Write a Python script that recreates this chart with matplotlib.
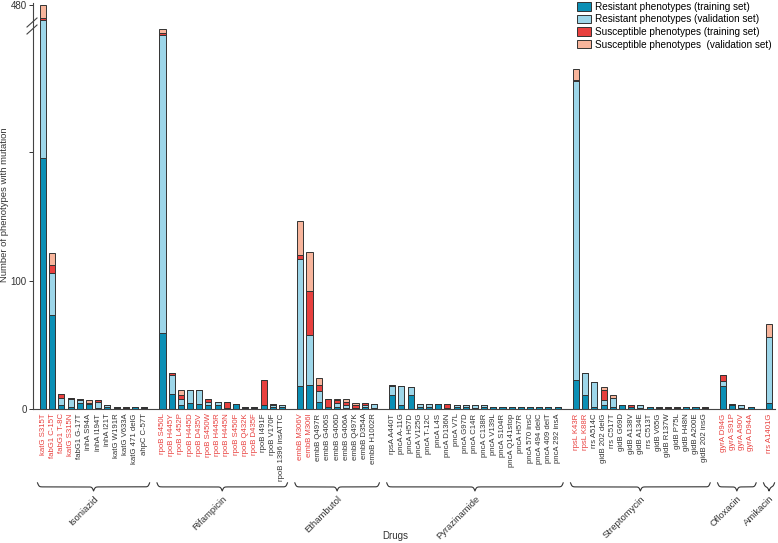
import matplotlib
matplotlib.use("Agg")
import matplotlib.pyplot as plt
import numpy as np
from matplotlib.patches import Patch
from matplotlib.lines import Line2D

plt.rcParams['font.family'] = ['Liberation Sans', 'DejaVu Sans']
narrow = ['Liberation Sans Narrow', 'Liberation Sans']

# ---- data ----
drugs = ['Isoniazid', 'Rifampicin', 'Ethambutol', 'Pyrazinamide',
         'Streptomycin', 'Ofloxacin', 'Amikacin']
group_sizes = [12, 14, 9, 19, 15, 4, 1]

mutations = [
    'katG S315T', 'fabG1 C-15T', 'fabG1 T-8C', 'katG S315N', 'fabG1 G-17T', 'inhA S94A',
    'inhA I194T', 'inhA I21T', 'katG W191R', 'katG V633A', 'katG 471 delG', 'ahpC C-57T',
    'rpoB S450L', 'rpoB H445Y', 'rpoB L452P', 'rpoB H445D', 'rpoB D435V', 'rpoB S450W',
    'rpoB H445R', 'rpoB H445N', 'rpoB S450F', 'rpoB Q432K', 'rpoB D435F', 'rpoB I491F',
    'rpoB V170F', 'rpoB 1396 insATTC',
    'embB M306V', 'embB M306I', 'embB Q497R', 'embB G406S', 'embB G406D', 'embB G406A',
    'embB Q497K', 'embB D354A', 'embB H1002R',
    'rpsA A440T', 'pncA A-11G', 'pncA H57D', 'pncA V125G', 'pncA T-12C', 'pncA L4S',
    'pncA D136N', 'pncA V7L', 'pncA G97D', 'pncA C14R', 'pncA C138R', 'pncA V139L',
    'pncA S104R', 'pncA Q141stop', 'pncA H57R', 'pncA 570 insC', 'pncA 494 delC',
    'pncA 409 delT', 'pncA 292 insA',
    'rpsL K43R', 'rpsL K88R', 'rrs A514C', 'gidB 202 delG', 'rrs C517T', 'gidB G69D',
    'gidB A138V', 'gidB A134E', 'rrs C513T', 'gidB V65G', 'gidB R137W', 'gidB P75L',
    'gidB H48N', 'gidB A200E', 'gidB 202 insG',
    'gyrA D94G', 'gyrA S91P', 'gyrA A90V', 'gyrA D94A',
    'rrs A1401G',
]

# catalogued (known resistance) mutations, drawn in red in the labels
catalogued = ([1]*4 + [0]*8 + [1]*11 + [0]*3 + [1]*2 + [0]*7 + [0]*19 +
              [1]*2 + [0]*13 + [1]*4 + [1])

res_train = [195, 73, 3, 2, 5, 4, 1, 2, 1, 1, 2, 1,
             59, 12, 3, 5, 4, 3, 3, 1, 4, 1, 1, 3, 2, 2,
             18, 19, 6, 2, 2, 1, 1, 2, 1,
             11, 3, 11, 2, 2, 4, 1, 2, 2, 1, 2, 2, 2, 2, 2, 2, 2, 2, 2,
             23, 11, 2, 3, 2, 3, 2, 1, 2, 1, 1, 1, 2, 2, 1,
             18, 3, 1, 2,
             5]
res_valid = [273, 33, 6, 6, 2, 0, 5, 1, 1, 0, 0, 1,
             232, 15, 5, 10, 11, 3, 3, 0, 0, 1, 1, 0, 1, 1,
             99, 39, 8, 0, 3, 2, 0, 1, 3,
             7, 15, 6, 2, 2, 0, 0, 1, 1, 2, 1, 0, 0, 0, 0, 0, 0, 0, 0,
             232, 17, 19, 4, 7, 0, 0, 2, 0, 1, 0, 0, 0, 0, 0,
             4, 0, 2, 0,
             51]
sus_train = [2, 6, 3, 1, 1, 1, 1, 0, 0, 1, 0, 0,
             1, 1, 3, 0, 0, 2, 0, 5, 0, 0, 0, 20, 1, 0,
             3, 34, 5, 6, 2, 3, 2, 2, 0,
             1, 0, 0, 0, 0, 0, 3, 0, 0, 0, 0, 0, 0, 0, 0, 0, 0, 0, 0,
             1, 0, 0, 8, 0, 0, 1, 0, 0, 0, 1, 1, 0, 0, 1,
             5, 1, 0, 0,
             0]
sus_valid = [10, 9, 0, 0, 0, 2, 0, 0, 0, 0, 0, 0,
             3, 0, 4, 0, 0, 0, 0, 0, 0, 0, 0, 0, 0, 0,
             26, 30, 5, 0, 1, 2, 2, 0, 0,
             0, 0, 0, 0, 0, 0, 0, 0, 0, 0, 0, 0, 0, 0, 0, 0, 0, 0, 0,
             8, 0, 0, 2, 2, 0, 0, 0, 0, 0, 0, 0, 0, 0, 0,
             0, 0, 0, 0,
             10]

series_names = ['Resistant phenotypes (training set)',
                'Resistant phenotypes (validation set)',
                'Susceptible phenotypes (training set)',
                'Susceptible phenotypes  (validation set)']
colors = ['#0b8fb5', '#9dd6e9', '#e8403e', '#f8b59c']
edge = '#333333'
red_txt = '#e8403e'

# ---- positions: one empty slot between drug groups ----
group_of = np.repeat(np.arange(len(group_sizes)), group_sizes)
x = np.arange(len(mutations)) + group_of


# broken y axis: compress the range between 298 and 466
def fwd(v):
    v = np.asarray(v, dtype=float)
    return np.where(v <= 298, v, np.where(v >= 466, v - 166, 298 + (v - 298) * 2 / 168))


def inv(u):
    u = np.asarray(u, dtype=float)
    return np.where(u <= 298, u, np.where(u >= 300, u + 166, 298 + (u - 298) * 84))


fig = plt.figure(figsize=(7.78, 5.43), dpi=100)
ax = fig.add_axes([33/778, 1 - 409.3/543, 742/778, 406.3/543])
ax.set_yscale('function', functions=(fwd, inv))

bottom = np.zeros(len(mutations))
for vals, c in zip([res_train, res_valid, sus_train, sus_valid], colors):
    vals = np.array(vals, dtype=float)
    ax.bar(x, vals, bottom=bottom, width=0.66, color=c, edgecolor=edge, linewidth=0.7)
    bottom += vals

ax.set_xlim(-1.09, x[-1] + 0.65)
ax.set_ylim(0, 481.5)
ax.set_yticks([0, 100, 200, 480])
ax.set_yticklabels(['0', '100', '', '480'])
ax.tick_params(axis='y', labelsize=7, length=3, width=0.7, colors='#333333', pad=1.5)
ax.tick_params(axis='x', length=0, pad=3)
ax.set_xticks(x)
ax.set_xticklabels(mutations, rotation=90, fontsize=5.6, family=narrow)
for lab, flag in zip(ax.get_xticklabels(), catalogued):
    lab.set_color(red_txt if flag else '#333333')

for s in ['top', 'right']:
    ax.spines[s].set_visible(False)
for s in ['left', 'bottom']:
    ax.spines[s].set_color('#444444')
    ax.spines[s].set_linewidth(0.8)

# break marks on the y axis
for dy in (0, 7):
    fig.add_artist(Line2D([27/778, 37/778], [1 - (27 + dy)/543, 1 - (18 + dy)/543],
                          color='#444444', lw=0.8))

# curly braces under each drug group
trans = ax.get_xaxis_transform()
start = 0
for g, (drug, n) in enumerate(zip(drugs, group_sizes)):
    x0 = x[start] - 0.6
    x1 = x[start + n - 1] + 0.6
    start += n
    xm = (x0 + x1) / 2
    beta = 12.0
    xh = np.linspace(x0, xm, 150)
    yh = 1/(1 + np.exp(-beta*(xh - xh[0]))) + 1/(1 + np.exp(-beta*(xh - xh[-1])))
    xs = np.concatenate([xh, (2*xm - xh)[::-1]])
    ys = np.concatenate([yh, yh[::-1]])
    y_top = -0.181
    h = 0.02
    ax.plot(xs, y_top - (ys - 0.5) * h, color='#333333', lw=0.8,
            transform=trans, clip_on=False)
    ax.text(xm, y_top - h - 0.008, drug, transform=trans, rotation=45,
            rotation_mode='anchor', ha='right', va='top', fontsize=6.8, color='#333333')

fig.text(395/778, 1 - 536/543, 'Drugs', ha='center', va='center', fontsize=7, color='#333333')
fig.text(5/778, 1 - 205/543, 'Number of phenotypes with mutation', rotation=90,
         ha='center', va='center', fontsize=6.8, color='#333333')

handles = [Patch(facecolor=c, edgecolor=edge, linewidth=0.7) for c in colors]
fig.legend(handles, series_names, loc='upper right', bbox_to_anchor=(0.995, 1.0),
           frameon=False, handlelength=1.4, handleheight=0.9,
           labelspacing=0.25, handletextpad=0.4, borderaxespad=0.1, borderpad=0.1,
           prop={'family': narrow, 'size': 7.2})

fig.savefig('out.png', dpi=100)
